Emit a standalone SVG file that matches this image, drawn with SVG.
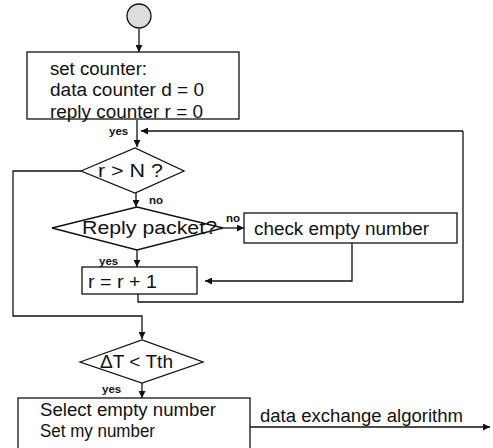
<svg xmlns="http://www.w3.org/2000/svg" width="493" height="448" viewBox="0 0 493 448">
<style>
.s{fill:none;stroke:#111;stroke-width:1.3}
.b{fill:#fff;stroke:#111;stroke-width:1.3}
.t{font-family:"Liberation Sans",Arial,sans-serif;font-size:18px;fill:#111}
.l{font-family:"Liberation Sans",Arial,sans-serif;font-size:11.5px;font-weight:bold;fill:#111}
</style>
<defs>
<marker id="a" viewBox="0 0 10 10" refX="10" refY="5" markerWidth="7" markerHeight="7" markerUnits="userSpaceOnUse" orient="auto">
<path d="M0,0L10,5L0,10z" fill="#111"/>
</marker>
</defs>
<g id="connectors">
<path class="s" d="M139,29V52" marker-end="url(#a)"/>
<path class="s" d="M137,120V147" marker-end="url(#a)"/>
<path class="s" d="M463,131H141" marker-end="url(#a)"/>
<path class="s" d="M136,193V207" marker-end="url(#a)"/>
<path class="s" d="M223,228H244" marker-end="url(#a)"/>
<path class="s" d="M137,250V267" marker-end="url(#a)"/>
<path class="s" d="M352,243V281H205" marker-end="url(#a)"/>
<path class="s" d="M138,294V302H463V131"/>
<path class="s" d="M81,171H13V316H142V339" marker-end="url(#a)"/>
<path class="s" d="M142,383V398" marker-end="url(#a)"/>
<path class="s" d="M250,427H490" marker-end="url(#a)"/>
<text class="l" x="109" y="135">yes</text>
<text class="l" x="149" y="204">no</text>
<text class="l" x="226" y="222">no</text>
<text class="l" x="99" y="265">yes</text>
<text class="l" x="102" y="393">yes</text>
<text class="t" x="260" y="422" textLength="203" lengthAdjust="spacingAndGlyphs">data exchange algorithm</text>
</g>
<g id="start">
<circle cx="139" cy="16" r="12" fill="#ddd" stroke="#111" stroke-width="1.3"/>
</g>
<g id="init">
<rect class="b" x="27" y="52" width="212" height="67"/>
<text class="t" x="50" y="75" textLength="97" lengthAdjust="spacingAndGlyphs">set counter:</text>
<text class="t" x="50" y="96" textLength="154" lengthAdjust="spacingAndGlyphs">data counter d = 0</text>
<text class="t" x="50" y="118" textLength="153" lengthAdjust="spacingAndGlyphs">reply counter r = 0</text>
</g>
<g id="rN">
<path class="b" d="M81,171L135,148L184,171L135,193Z"/>
<text class="t" x="98" y="177" textLength="65" lengthAdjust="spacingAndGlyphs">r &gt; N ?</text>
</g>
<g id="reply">
<path class="b" d="M52,228L137,207L223,228L137,250Z"/>
<text class="t" x="82" y="234" textLength="135" lengthAdjust="spacingAndGlyphs">Reply packet?</text>
</g>
<g id="check">
<rect class="b" x="244" y="213" width="213" height="30"/>
<text class="t" x="254" y="235" textLength="175" lengthAdjust="spacingAndGlyphs">check empty number</text>
</g>
<g id="inc">
<rect class="b" x="82" y="267" width="115" height="27"/>
<text class="t" x="88" y="288" textLength="69" lengthAdjust="spacingAndGlyphs">r = r + 1</text>
</g>
<g id="dt">
<path class="b" d="M80,362L142,340L203,362L142,383Z"/>
<text class="t" x="100" y="368" textLength="73" lengthAdjust="spacingAndGlyphs">ΔT &lt; Tth</text>
</g>
<g id="select">
<rect class="b" x="18" y="398" width="232" height="60"/>
<text class="t" x="40" y="416" textLength="176" lengthAdjust="spacingAndGlyphs">Select empty number</text>
<text class="t" x="40" y="437" textLength="115" lengthAdjust="spacingAndGlyphs">Set my number</text>
</g>
</svg>
